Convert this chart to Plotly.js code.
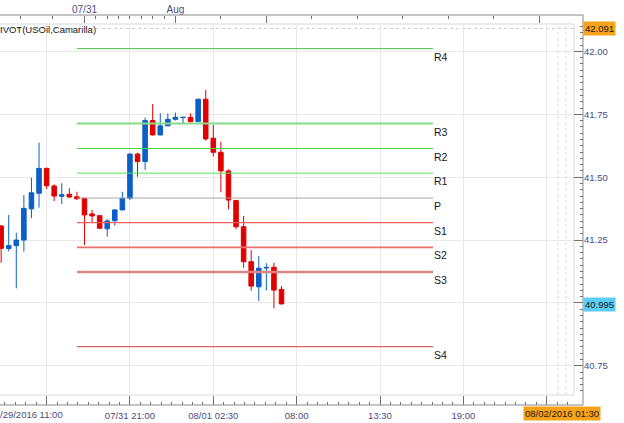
<!DOCTYPE html>
<html><head><meta charset="utf-8">
<script src="https://cdn.plot.ly/plotly-3.0.1.min.js"></script>
<style>html,body{margin:0;padding:0;background:#fff;overflow:hidden}#chart{width:624px;height:423px}</style>
</head><body><div id="chart"></div>
<script>
// ---- data (30-minute candles, USOil) ----
const candleIdx = [-6,-5,-4,-3,-2,-1,0,1,2,3,4,5,6,7,8,9,10,11,12,13,14,15,16,17,18,19,20,21,22,23,24,25,26,27,28,29,30,31];
const openP  = [41.306,41.216,41.228,41.250,41.374,41.436,41.535,41.465,41.424,41.432,41.422,41.416,41.354,41.347,41.295,41.327,41.370,41.416,41.592,41.562,41.725,41.668,41.704,41.730,41.737,41.738,41.721,41.810,41.655,41.599,41.525,41.407,41.303,41.164,41.064,41.139,41.142,41.054];
const highP  = [41.310,41.350,41.279,41.429,41.498,41.637,41.538,41.472,41.476,41.456,41.442,41.418,41.370,41.350,41.333,41.372,41.442,41.594,41.597,41.737,41.791,41.754,41.754,41.757,41.739,41.754,41.812,41.847,41.708,41.641,41.531,41.410,41.346,41.210,41.187,41.158,41.160,41.067];
const lowP   = [41.160,41.205,41.058,41.204,41.337,41.379,41.453,41.405,41.393,41.418,41.410,41.230,41.320,41.295,41.263,41.307,41.368,41.409,41.502,41.529,41.666,41.666,41.703,41.725,41.714,41.717,41.719,41.645,41.582,41.440,41.372,41.293,41.140,41.049,41.008,41.049,40.979,40.995];
const closeP = [41.217,41.228,41.250,41.376,41.438,41.535,41.466,41.425,41.430,41.421,41.414,41.350,41.346,41.297,41.326,41.370,41.416,41.592,41.562,41.725,41.668,41.704,41.730,41.738,41.738,41.721,41.810,41.652,41.599,41.525,41.409,41.303,41.164,41.067,41.138,41.141,41.051,40.996];

// Camarilla pivot levels
const pivotNames  = ['R4','R3','R2','R1','P','S1','S2','S3','S4'];
const pivotLevels = [42.011,41.713,41.614,41.516,41.417,41.319,41.221,41.123,40.826];
const pivotFrom = 4, pivotTo = 51;

// axis labels
const bottomTickIdx  = [0,11,22,33,44,55,66];
const bottomTickText = ['','07/31 21:00','08/01 02:30','08:00','13:30','19:00',''];
const firstTickText  = '/29/2016 11:00';
const priceTickVals  = [40.75,41.00,41.25,41.50,41.75,42.00];
const priceTickText  = ['40.75','','41.25','41.50','41.75','42.00'];
const topLabelIdx  = [5,17];
const topLabelText = ['07/31','Aug'];
const topMajorIdx  = [29,65];
const topMinorIdx  = [-3.5,0.75,6.5,8,9.5,11,12.5,14,15.5,23,35,41,47,53,59];
const maxPrice = 42.091, lastPrice = 40.995;
const cursorIdx = 68, cursorText = '08/02/2016 01:30';
const studyName = 'IVOT(USOil,Camarilla)';

// ---- styles ----
const pivotColors = ['#4cc24c','#86dc86','#46d846','#5ade5a','#a6a6a6','#ee5c5c','#ee6e6e','#dc8484','#c84040'];
const pivotWidths = [1,2,1,1,1,1.3,1.6,2.4,1];
const FONT = 'Liberation Sans, Arial, sans-serif';
const AX_COLOR = '#4b4b7b';
const xRange = [-6.15, 69.6];
const yRange = [40.634, 42.109];

const traces = [];
pivotLevels.forEach((lv, k) => {
  traces.push({type:'scatter', mode:'lines', x:[pivotFrom, pivotTo], y:[lv, lv],
    line:{color:pivotColors[k], width:pivotWidths[k]}, hoverinfo:'skip', showlegend:false});
});
traces.push({
  type:'candlestick', x:candleIdx, open:openP, high:highP, low:lowP, close:closeP,
  increasing:{line:{color:'#0b5fc7', width:1}, fillcolor:'#0b5fc7'},
  decreasing:{line:{color:'#e00000', width:1}, fillcolor:'#e00000'},
  whiskerwidth:0, showlegend:false
});
const markerY = yRange[1] + (24 - 18.5) / 371 * (yRange[1] - yRange[0]);
traces.push({type:'scatter', mode:'markers', xaxis:'x2', yaxis:'y',
  x: topLabelIdx, y: topLabelIdx.map(() => markerY),
  marker:{symbol:'triangle-down', size:7, color:'#f5a01a'}, cliponaxis:false,
  hoverinfo:'skip', showlegend:false});

const tickFont = {family:FONT, size:9.5, color:AX_COLOR};
const annotations = [];
pivotNames.forEach((n, k) => {
  annotations.push({x:pivotTo, y:pivotLevels[k], xref:'x', yref:'y', xanchor:'left', yanchor:'top',
    text:n, showarrow:false, font:{family:FONT, size:10.5, color:'#151515'}, xshift:-1, yshift:0});
});
annotations.push({x:0, y:(405-30)/390, xref:'paper', yref:'paper', xanchor:'left', yanchor:'middle',
  text:studyName, showarrow:false, font:{family:FONT, size:9.5, color:'#222'}, xshift:-2});
annotations.push({x:0, y:(405-415)/390, xref:'paper', yref:'paper', xanchor:'left', yanchor:'middle',
  text:firstTickText, showarrow:false, font:tickFont, xshift:-2});
annotations.push({x:1, y:maxPrice, xref:'paper', yref:'y', xanchor:'left', yanchor:'middle',
  text:maxPrice.toFixed(3), showarrow:false, bgcolor:'#f7a21b', borderpad:1,
  font:{family:FONT, size:9.5, color:'#1a1a1a'}, xshift:0});
annotations.push({x:1, y:lastPrice, xref:'paper', yref:'y', xanchor:'left', yanchor:'middle',
  text:lastPrice.toFixed(3), showarrow:false, bgcolor:'#5ccdf5', borderpad:1,
  font:{family:FONT, size:9.5, color:'#1a1a1a'}, xshift:0});
annotations.push({x:cursorIdx, y:(405-414)/390, xref:'x', yref:'paper', xanchor:'center', yanchor:'middle',
  text:cursorText, showarrow:false, bgcolor:'#f7a21b', borderpad:1,
  font:{family:FONT, size:9.5, color:'#1a1a1a'}});

const frameCol = '#8a8a8a', innerCol = '#d3dae3';
const shapes = [
  {type:'line', xref:'paper', yref:'paper', x0:0, x1:1, y0:1, y1:1, line:{color:frameCol, width:1}},
  {type:'line', xref:'paper', yref:'paper', x0:0, x1:1, y0:0, y1:0, line:{color:frameCol, width:1}},
  {type:'line', xref:'paper', yref:'paper', x0:1, x1:1, y0:0, y1:1, line:{color:frameCol, width:1}},
  {type:'line', xref:'x domain', yref:'y domain', x0:0, x1:1, y0:1, y1:1, line:{color:innerCol, width:1}, layer:'below'},
  {type:'line', xref:'x domain', yref:'y domain', x0:0, x1:1, y0:0, y1:0, line:{color:innerCol, width:1}, layer:'below'},
  {type:'line', xref:'x domain', yref:'y domain', x0:1, x1:1, y0:0, y1:1, line:{color:innerCol, width:1}, layer:'below'},
  {type:'line', xref:'x domain', yref:'y', x0:0, x1:1, y0:maxPrice, y1:maxPrice, line:{color:'#cfcfcf', width:1, dash:'dot'}, layer:'below'},
  {type:'line', xref:'x', yref:'y domain', x0:cursorIdx-0.5, x1:cursorIdx-0.5, y0:0, y1:1, line:{color:'#d6d6d6', width:1, dash:'dot'}, layer:'below'},
  {type:'line', xref:'x', yref:'y domain', x0:cursorIdx+0.55, x1:cursorIdx+0.55, y0:0, y1:1, line:{color:'#d6d6d6', width:1, dash:'dot'}, layer:'below'}
];

const layout = {
  width:624, height:423, autosize:false,
  margin:{l:0, r:41, t:15, b:18, pad:0},
  paper_bgcolor:'#ffffff', plot_bgcolor:'#ffffff',
  showlegend:false, boxgap:0.25, boxgroupgap:0.2,
  font:{family:FONT, size:9.5, color:AX_COLOR},
  xaxis:{domain:[0, 574/583], range:xRange, anchor:'free', position:0,
    tickmode:'array', tickvals:bottomTickIdx, ticktext:bottomTickText,
    ticks:'inside', ticklen:9, tickcolor:'#707070', tickwidth:1,
    minor:{ticks:'inside', ticklen:3, tick0:0, dtick:1.375, tickcolor:'#707070', showgrid:false},
    showgrid:true, gridcolor:'#e8e8e8', gridwidth:1, zeroline:false, showline:false,
    tickfont:tickFont, ticklabelstandoff:3, rangeslider:{visible:false}, fixedrange:true},
  xaxis2:{overlaying:'x', domain:[0, 574/583], range:xRange, anchor:'free', position:1, side:'top',
    tickmode:'array', tickvals:topLabelIdx.concat(topMajorIdx), ticktext:topLabelText.concat(topMajorIdx.map(()=>'')),
    ticks:'inside', ticklen:7, tickcolor:'#707070',
    minor:{tickmode:'array', tickvals:topMinorIdx, ticks:'inside', ticklen:3, tickcolor:'#707070', showgrid:false},
    showgrid:false, zeroline:false, showline:false, tickfont:{family:FONT, size:10, color:AX_COLOR}, fixedrange:true},
  yaxis:{domain:[10/390, 381/390], range:yRange, side:'right', anchor:'free', position:1,
    tickmode:'array', tickvals:priceTickVals, ticktext:priceTickText,
    ticks:'inside', ticklen:9, tickcolor:'#707070',
    minor:{ticks:'inside', ticklen:3, tick0:0, dtick:0.025, tickcolor:'#707070', showgrid:false},
    showgrid:true, gridcolor:'#e8e8e8', gridwidth:1, zeroline:false, showline:false,
    tickfont:tickFont, fixedrange:true},
  shapes:shapes, annotations:annotations
};
Plotly.newPlot('chart', traces, layout, {displayModeBar:false, staticPlot:true});
</script></body></html>
